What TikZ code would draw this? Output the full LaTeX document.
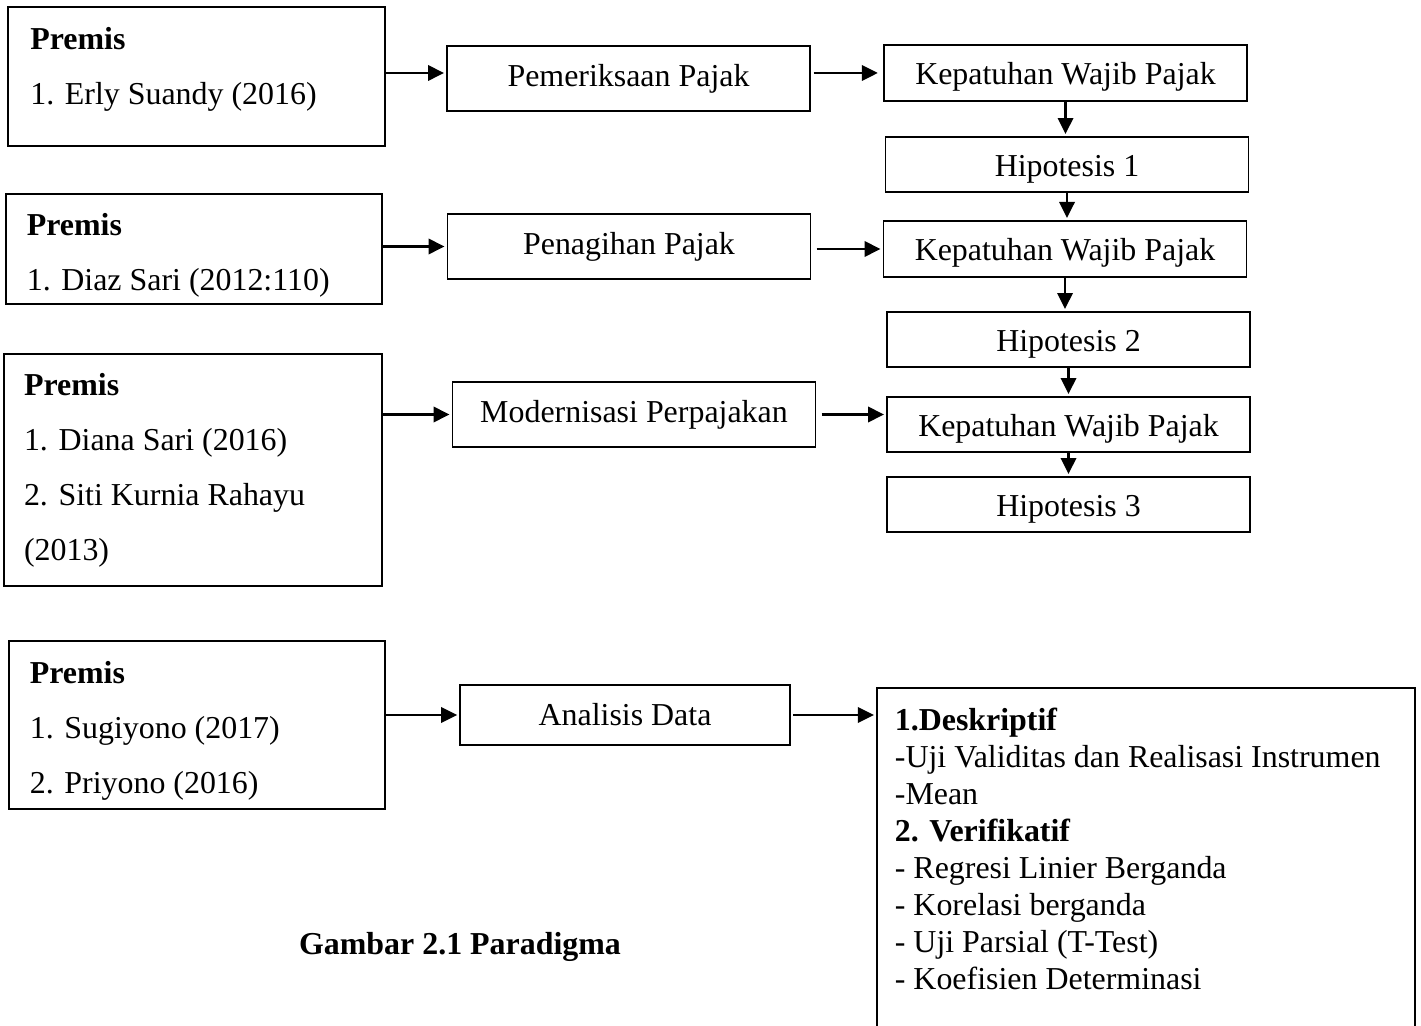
\documentclass[tikz,border=0pt]{standalone}
\usepackage{fontspec}
\setmainfont{Liberation Serif}
\usetikzlibrary{arrows.meta}
\begin{document}
\begin{tikzpicture}[x=0.376pt, y=-0.376pt, line width=0.65pt]
        \tikzstyle{every node}=[font=\fontsize{12}{14}\selectfont]
        \tikzstyle{box}=[draw, inner sep=0pt, minimum width=136.5pt]
        \tikzstyle{kbox}=[box, text height=10pt, text depth=1pt]
        \tikzstyle{premis}=[draw, inner sep=0pt, minimum width=141.5pt]
        \tikzstyle{premistext}=[anchor=west, align=flush left, inner sep=0pt, font=\fontsize{12}{20.7}\selectfont]
        \tikzstyle{arr}=[-{Triangle[length=6pt,width=5.8pt]}, line width=0.8pt, shorten >=0.8pt]
        \useasboundingbox (0,0) rectangle (1421,1026);
        % premis
        \node [premis, minimum height=52.3pt] (p1) at (196.5,76.5) {};
        \node [premis, minimum height=41.4pt] (p2) at (194,249) {};
        \node [premis, minimum height=87.2pt, minimum width=142.1pt] (p3) at (193,470) {};
        \node [premis, minimum height=63.2pt] (p4) at (197,725) {};
        \node [premistext] (p1txt) at ([shift={(22,-7)}]p1.west) {\frenchspacing\textbf{Premis}\\1. Erly Suandy (2016)};
        \node [premistext] (p2txt) at ([shift={(21,6)}]p2.west) {\frenchspacing\textbf{Premis}\\1. Diaz Sari (2012:110)};
        \node [premistext] (p3txt) at ([shift={(20,0)}]p3.west) {\frenchspacing\textbf{Premis}\\1. Diana Sari (2016)\\2. Siti Kurnia Rahayu\\(2013)};
        \node [premistext] (p4txt) at ([shift={(21,6)}]p4.west) {\frenchspacing\textbf{Premis}\\1. Sugiyono (2017)\\2. Priyono (2016)};
        % variabel
        \node [box, minimum height=24.4pt] (pem) at (628.5,78.5) {Pemeriksaan Pajak};
        \node [box, minimum height=24.4pt] (pen) at (629,246.5) {Penagihan Pajak};
        \node [box, minimum height=24.4pt] (mod) at (634,414.5) {Modernisasi Perpajakan};
        \node [box, minimum height=22.6pt, minimum width=124pt] (anl) at (625,715) {Analisis Data};
        % kepatuhan & hipotesis
        \node [kbox, minimum height=21.1pt] (kep1) at (1065.5,73) {Kepatuhan Wajib Pajak};
        \node [kbox, minimum height=20.7pt] (hip1) at (1067,164.5) {Hipotesis 1};
        \node [kbox, minimum height=21.1pt] (kep2) at (1065,249) {Kepatuhan Wajib Pajak};
        \node [kbox, minimum height=20.7pt] (hip2) at (1068.5,339.5) {Hipotesis 2};
        \node [kbox, minimum height=20.7pt] (kep3) at (1068.5,424.5) {Kepatuhan Wajib Pajak};
        \node [kbox, minimum height=20.7pt] (hip3) at (1068.5,504.5) {Hipotesis 3};
        % metode analisis
        \node [draw, anchor=north west, minimum width=202.3pt, minimum height=150pt] (desk) at (876,687) {};
        \node [anchor=north west, inner sep=0pt, align=left, font=\fontsize{12}{13.9}\selectfont] (desktext) at (894,707) {\textbf{1.Deskriptif}\\-Uji Validitas dan Realisasi Instrumen\\-Mean\\\textbf{2. Verifikatif}\\- Regresi Linier Berganda\\- Korelasi berganda\\- Uji Parsial (T-Test)\\- Koefisien Determinasi};
        \node [font=\fontsize{12}{14}\selectfont\bfseries] (judul) at (460,947) {Gambar 2.1 Paradigma};
        % panah
        \draw [arr] (p1.east |- kep1.west) -- (pem.west |- kep1.west);
        \draw [arr] (p2.east |- pen.west) -- (pen.west);
        \draw [arr] (p3.east |- mod.west) -- (mod.west);
        \draw [arr] (p4.east |- anl.west) -- (anl.west);
        \draw [arr, shorten <=1pt, shorten >=2pt] (pem.east |- kep1.west) -- (kep1.west);
        \draw [arr, shorten <=2pt] (pen.east |- kep2.west) -- (kep2.west);
        \draw [arr, shorten <=2pt] (mod.east) -- (kep3.west |- mod.east);
        \draw [arr, shorten <=1pt] (anl.east) -- (desk.west |- anl.east);
        \draw [arr] (kep1.south) -- (kep1.south |- hip1.north);
        \draw [arr] (hip1.south) -- (hip1.south |- kep2.north);
        \draw [arr] (kep2.south) -- (kep2.south |- hip2.north);
        \draw [arr] (hip2.south) -- (hip2.south |- kep3.north);
        \draw [arr] (kep3.south) -- (kep3.south |- hip3.north);
    \end{tikzpicture}
\end{document}
